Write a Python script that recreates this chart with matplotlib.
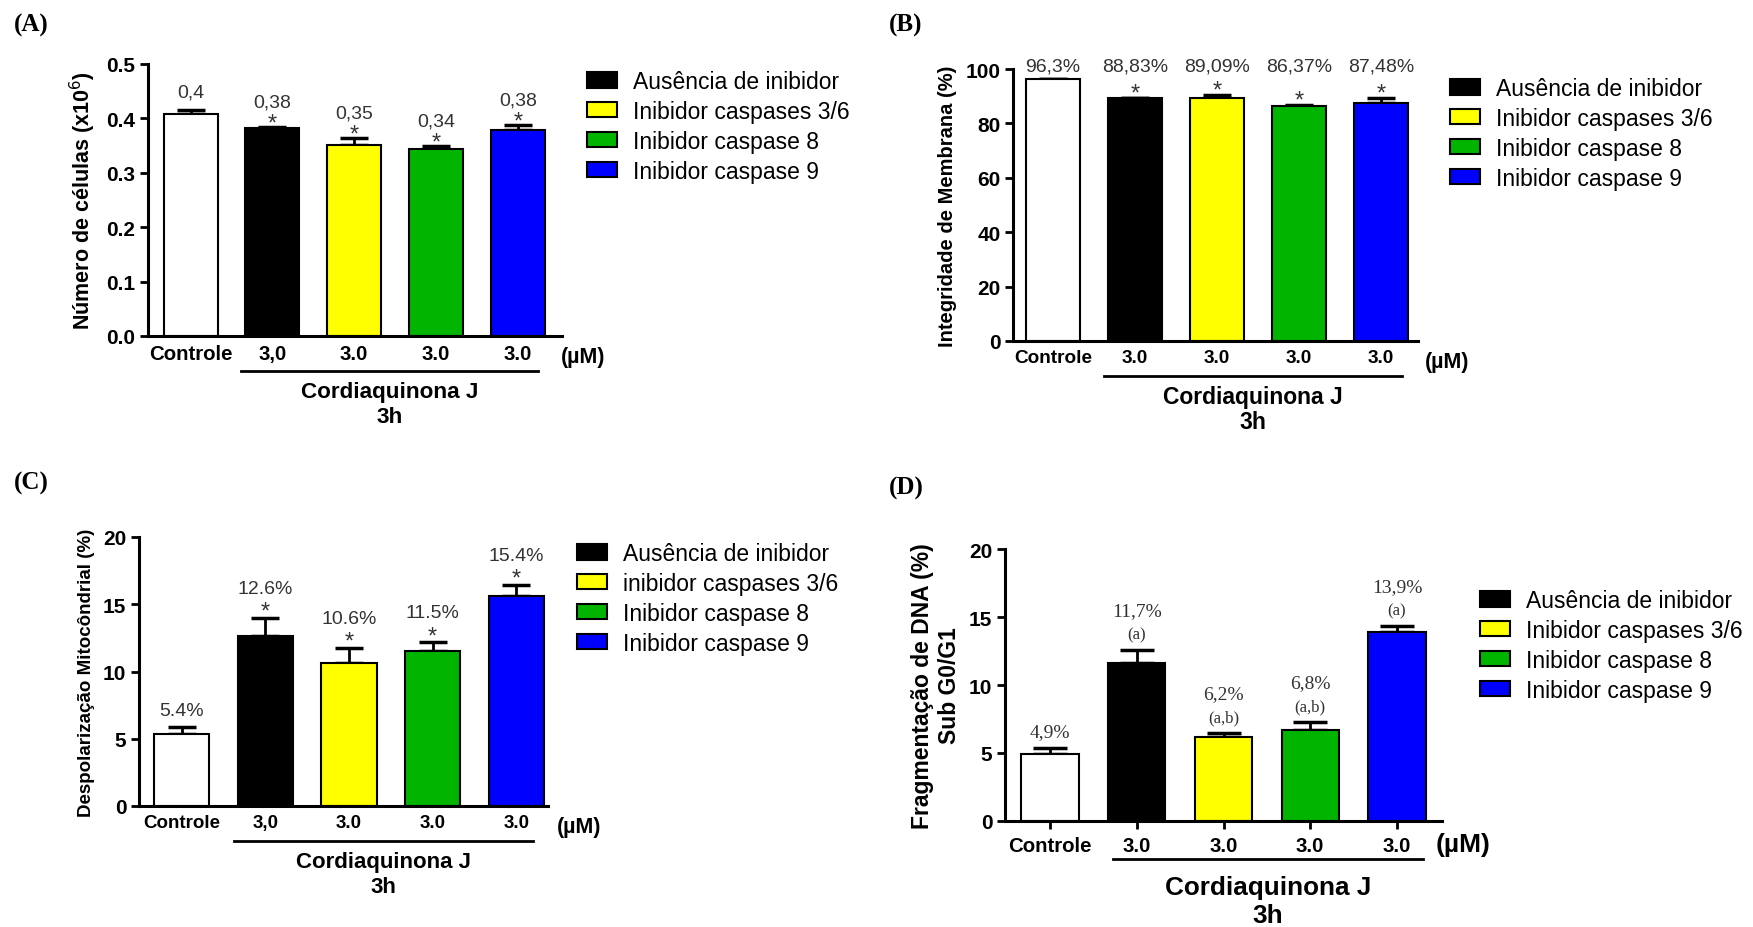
import numpy as np
import matplotlib
matplotlib.use("Agg")
import matplotlib.pyplot as plt
from matplotlib import transforms
from matplotlib.patches import Patch

plt.rcParams['font.family'] = ['Liberation Sans', 'DejaVu Sans']

# groups and colours shared by the four panels
ticks_comma = ["Controle", "3,0", "3.0", "3.0", "3.0"]
ticks_dot = ["Controle", "3.0", "3.0", "3.0", "3.0"]
bar_colors = ["white", "black", "#ffff00", "#00b400", "#0000ff"]
legend_labels = ["Ausência de inibidor", "Inibidor caspases 3/6", "Inibidor caspase 8", "Inibidor caspase 9"]
legend_labels_c = ["Ausência de inibidor", "inibidor caspases 3/6", "Inibidor caspase 8", "Inibidor caspase 9"]

# (A) cell number
a_mean = [0.408, 0.382, 0.351, 0.344, 0.379]
a_err = [0.007, 0.002, 0.013, 0.005, 0.009]
a_text = ["0,4", "0,38", "0,35", "0,34", "0,38"]
a_yticks = [0.0, 0.1, 0.2, 0.3, 0.4, 0.5]

# (B) membrane integrity
b_mean = [96.3, 89.3, 89.5, 86.4, 87.5]
b_err = [0.0, 0.0, 0.9, 0.3, 1.8]
b_text = ["96,3%", "88,83%", "89,09%", "86,37%", "87,48%"]
b_yticks = [0, 20, 40, 60, 80, 100]

# (C) mitochondrial depolarization
c_mean = [5.35, 12.64, 10.63, 11.52, 15.6]
c_err = [0.52, 1.34, 1.12, 0.67, 0.83]
c_text = ["5.4%", "12.6%", "10.6%", "11.5%", "15.4%"]
c_yticks = [0, 5, 10, 15, 20]

# (D) DNA fragmentation
d_mean = [4.9, 11.6, 6.2, 6.7, 13.9]
d_err = [0.45, 1.0, 0.3, 0.6, 0.45]
d_text = ["4,9%", "11,7%", "6,2%", "6,8%", "13,9%"]
d_sig = ["", "(a)", "(a,b)", "(a,b)", "(a)"]
d_yticks = [0, 5, 10, 15, 20]

W, H = 1753, 928
fig = plt.figure(figsize=(W / 100, H / 100), dpi=100)


def make_ax(l, t, r, b):
    return fig.add_axes([l / W, 1 - b / H, (r - l) / W, (b - t) / H])


def below(ax, pts):
    # x in data, y at the x-axis shifted down by pts points
    return transforms.blended_transform_factory(ax.transData, ax.transAxes) + \
        transforms.ScaledTranslation(0, -pts / 72, fig.dpi_scale_trans)


def draw_bars(ax, mean, err, ticks, yticks, ylabel, xlim, fmt, xsize, ysize,
              tick_len=0, capsize=10):
    x = np.arange(len(mean))
    ax.bar(x, mean, width=0.66, color=bar_colors, edgecolor="black", linewidth=1.5, zorder=2)
    ax.errorbar(x, mean, yerr=[np.zeros(len(err)), err], fmt="none", ecolor="black",
                elinewidth=2, capsize=capsize, capthick=2.5, zorder=1)
    ax.set_xlim(*xlim)
    ax.set_ylim(yticks[0], yticks[-1])
    ax.set_yticks(yticks)
    ax.set_yticklabels([fmt.format(v) for v in yticks], fontsize=15, fontweight="bold")
    ax.set_xticks(x)
    ax.set_xticklabels(ticks, fontsize=xsize, fontweight="bold")
    ax.tick_params(axis="x", length=tick_len, width=2, pad=6)
    ax.tick_params(axis="y", length=6, width=2, pad=3)
    for s in ["top", "right"]:
        ax.spines[s].set_visible(False)
    for s in ["left", "bottom"]:
        ax.spines[s].set_linewidth(2.2)
    ax.set_ylabel(ylabel, fontsize=ysize, fontweight="bold", labelpad=6)
    return x


def under_axis(ax, x0, x1, mu_x, mu_pts, line_pts, t1_pts, t2_pts, size, mu_size):
    ax.plot([x0, x1], [0, 0], transform=below(ax, line_pts), color="black", lw=2, clip_on=False)
    xc = (x0 + x1) / 2
    ax.text(xc, 0, "Cordiaquinona J", transform=below(ax, t1_pts), ha="center", va="center",
            fontsize=size, fontweight="bold")
    ax.text(xc, 0, "3h", transform=below(ax, t2_pts), ha="center", va="center",
            fontsize=size, fontweight="bold")
    ax.text(mu_x, 0, "(µM)", transform=below(ax, mu_pts), ha="center", va="center",
            fontsize=mu_size, fontweight="bold")


def add_legend(ax, labels, x, y):
    handles = [Patch(facecolor=c, edgecolor="black", linewidth=1.5) for c in bar_colors[1:]]
    ax.legend(handles, labels, loc="upper left", bbox_to_anchor=(x / W, 1 - y / H),
              bbox_transform=fig.transFigure, frameon=False, fontsize=16.5, borderpad=0,
              borderaxespad=0, handlelength=1.3, handleheight=0.65, handletextpad=0.7,
              labelspacing=0.3)


def star_labels(ax, mean, err, text, star_off, lab_off, ctrl_off, size=14):
    for i in range(len(mean)):
        top = mean[i] + err[i]
        if i == 0:
            ax.annotate(text[i], (i, top), xytext=(0, ctrl_off), textcoords="offset points",
                        ha="center", va="center", fontsize=size, color="#333333")
        else:
            ax.annotate("*", (i, top), xytext=(0, star_off), textcoords="offset points",
                        ha="center", va="baseline", fontsize=17, color="#333333")
            ax.annotate(text[i], (i, top), xytext=(0, lab_off), textcoords="offset points",
                        ha="center", va="center", fontsize=size, color="#333333")


# ---------- (A)
axA = make_ax(148, 65, 562, 337)
draw_bars(axA, a_mean, a_err, ticks_comma, a_yticks, "Número de células (x10$^6$)",
          (-0.52, 4.54), "{:.1f}", 14.7, 15.5)
star_labels(axA, a_mean, a_err, a_text, -2, 18, 13)
under_axis(axA, 0.62, 4.25, 4.8, 15, 25, 40, 58, 16.2, 15.5)
add_legend(axA, legend_labels, 587, 71)

# ---------- (B)
axB = make_ax(1013, 70, 1418, 342)
x = draw_bars(axB, b_mean, b_err, ticks_dot, b_yticks, "Integridade de Membrana (%)",
              (-0.49, 4.45), "{:d}", 13.7, 14.5)
for i in x:
    top = b_mean[i] + b_err[i]
    axB.annotate(b_text[i], (i, 101), xytext=(0, 0), textcoords="offset points",
                 ha="center", va="center", fontsize=14, color="#333333", annotation_clip=False)
    if i > 0:
        axB.annotate("*", (i, top), xytext=(0, -1), textcoords="offset points",
                     ha="center", va="baseline", fontsize=17, color="#333333")
under_axis(axB, 0.62, 4.25, 4.8, 15, 25, 40, 58, 16.5, 15.5)
add_legend(axB, legend_labels, 1450, 78)

# ---------- (C)
axC = make_ax(139, 538, 548, 807)
draw_bars(axC, c_mean, c_err, ticks_comma, c_yticks, "Despolarização Mitocôndrial (%)",
          (-0.51, 4.38), "{:d}", 13.5, 13.5)
star_labels(axC, c_mean, c_err, c_text, 0, 21, 12)
under_axis(axC, 0.62, 4.2, 4.75, 15, 25, 40, 58, 16, 15.5)
add_legend(axC, legend_labels_c, 577, 543)

# ---------- (D)
axD = make_ax(1005, 550, 1442, 822)
x = draw_bars(axD, d_mean, d_err, ticks_dot, d_yticks, "Fragmentação de DNA (%)\nSub G0/G1",
              (-0.52, 4.52), "{:d}", 14.7, 16.5, tick_len=6, capsize=12)
axD.tick_params(axis="x", pad=5)
for i in x:
    top = d_mean[i] + d_err[i]
    if i == 0:
        axD.annotate(d_text[i], (i, top), xytext=(0, 12), textcoords="offset points",
                     ha="center", va="center", fontsize=14, family="Liberation Serif",
                     color="#333333")
    else:
        axD.annotate(d_sig[i], (i, top), xytext=(0, 11), textcoords="offset points",
                     ha="center", va="center", fontsize=12, family="Liberation Serif",
                     color="#333333")
        axD.annotate(d_text[i], (i, top), xytext=(0, 28), textcoords="offset points",
                     ha="center", va="center", fontsize=14, family="Liberation Serif",
                     color="#333333")
under_axis(axD, 0.72, 4.3, 4.76, 16.5, 27, 47.5, 68, 18.8, 19)
add_legend(axD, legend_labels, 1480, 590)

# panel letters
for lab, px, py in [("(A)", 14, 25), ("(B)", 889, 25), ("(C)", 14, 483), ("(D)", 889, 488)]:
    fig.text(px / W, 1 - py / H, lab, fontsize=18, fontweight="bold", family="Liberation Serif",
             ha="left", va="center")

fig.savefig("out.png", dpi=100)
